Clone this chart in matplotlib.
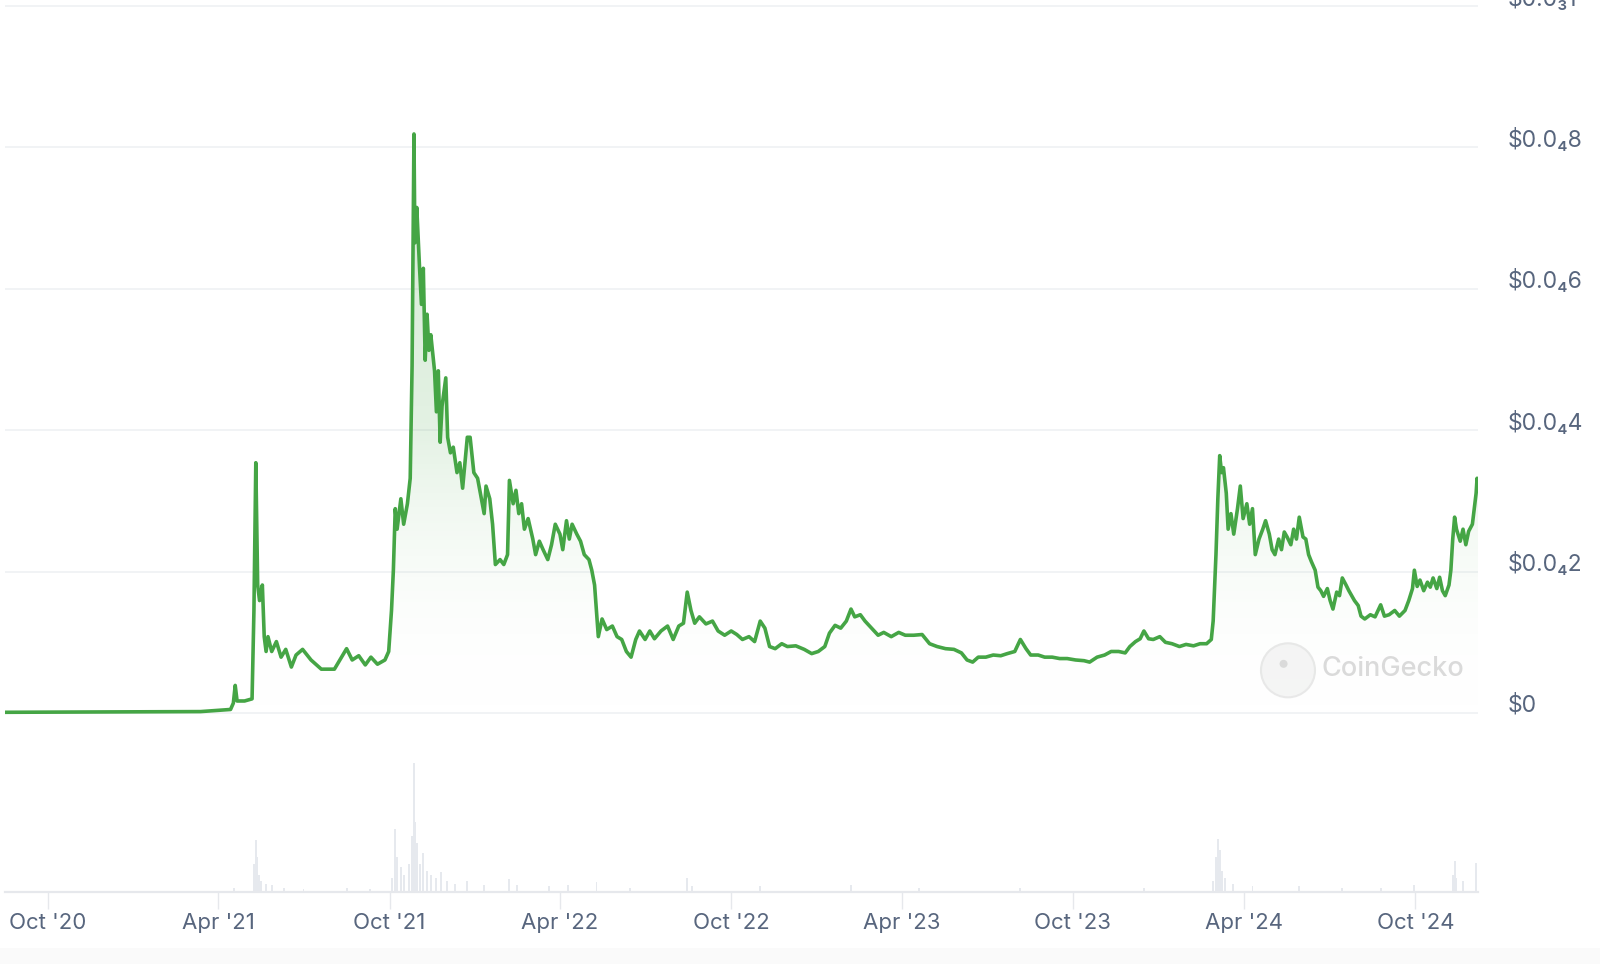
import numpy as np
import pandas as pd
import matplotlib
matplotlib.use('Agg')
import matplotlib.pyplot as plt
import matplotlib.dates as mdates
from matplotlib.colors import LinearSegmentedColormap
from matplotlib.patches import Ellipse, Rectangle
from matplotlib.transforms import ScaledTranslation

plt.rcParams['font.family'] = ['Inter', 'DejaVu Sans']

# price in units of 1e-5 USD
price_dates = [
    '2020-08-16', '2021-03-13', '2021-04-14', '2021-04-17', '2021-04-19', '2021-04-21', '2021-04-29',
    '2021-05-07', '2021-05-09', '2021-05-11', '2021-05-13', '2021-05-15', '2021-05-18', '2021-05-20',
    '2021-05-22', '2021-05-24', '2021-05-28', '2021-06-02', '2021-06-07', '2021-06-12', '2021-06-18',
    '2021-06-23', '2021-06-30', '2021-07-09', '2021-07-20', '2021-08-03', '2021-08-16', '2021-08-22',
    '2021-08-29', '2021-09-05', '2021-09-11', '2021-09-18', '2021-09-26', '2021-09-30', '2021-10-03',
    '2021-10-05', '2021-10-07', '2021-10-09', '2021-10-13', '2021-10-16', '2021-10-20', '2021-10-23',
    '2021-10-25', '2021-10-27', '2021-10-28', '2021-10-30', '2021-11-02', '2021-11-04', '2021-11-06',
    '2021-11-08', '2021-11-10', '2021-11-12', '2021-11-14', '2021-11-18', '2021-11-20', '2021-11-22',
    '2021-11-24', '2021-11-26', '2021-11-30', '2021-12-02', '2021-12-05', '2021-12-08', '2021-12-12',
    '2021-12-15', '2021-12-18', '2021-12-23', '2021-12-26', '2021-12-30', '2022-01-03', '2022-01-07',
    '2022-01-10', '2022-01-12', '2022-01-16', '2022-01-19', '2022-01-22', '2022-01-27', '2022-01-31',
    '2022-02-04', '2022-02-06', '2022-02-10', '2022-02-13', '2022-02-16', '2022-02-19', '2022-02-22',
    '2022-02-26', '2022-03-03', '2022-03-06', '2022-03-10', '2022-03-14', '2022-03-19', '2022-03-23',
    '2022-03-27', '2022-04-01', '2022-04-04', '2022-04-08', '2022-04-11', '2022-04-14', '2022-04-19',
    '2022-04-23', '2022-04-27', '2022-05-02', '2022-05-05', '2022-05-08', '2022-05-10', '2022-05-12',
    '2022-05-16', '2022-05-21', '2022-05-27', '2022-06-01', '2022-06-06', '2022-06-11', '2022-06-16',
    '2022-06-21', '2022-06-25', '2022-07-01', '2022-07-06', '2022-07-11', '2022-07-18', '2022-07-25',
    '2022-07-31', '2022-08-06', '2022-08-11', '2022-08-15', '2022-08-19', '2022-08-23', '2022-08-28',
    '2022-09-04', '2022-09-11', '2022-09-17', '2022-09-24', '2022-10-01', '2022-10-07', '2022-10-13',
    '2022-10-20', '2022-10-26', '2022-11-01', '2022-11-06', '2022-11-11', '2022-11-17', '2022-11-24',
    '2022-11-30', '2022-12-09', '2022-12-18', '2022-12-26', '2023-01-02', '2023-01-09', '2023-01-14',
    '2023-01-20', '2023-01-26', '2023-02-01', '2023-02-06', '2023-02-10', '2023-02-16', '2023-02-21',
    '2023-02-28', '2023-03-07', '2023-03-13', '2023-03-21', '2023-03-29', '2023-04-05', '2023-04-14',
    '2023-04-23', '2023-05-01', '2023-05-09', '2023-05-18', '2023-05-27', '2023-06-04', '2023-06-10',
    '2023-06-16', '2023-06-22', '2023-06-30', '2023-07-08', '2023-07-16', '2023-07-23', '2023-07-31',
    '2023-08-06', '2023-08-12', '2023-08-17', '2023-08-25', '2023-09-01', '2023-09-09', '2023-09-17',
    '2023-09-25', '2023-10-04', '2023-10-13', '2023-10-19', '2023-10-27', '2023-11-04', '2023-11-11',
    '2023-11-19', '2023-11-26', '2023-12-01', '2023-12-07', '2023-12-12', '2023-12-16', '2023-12-21',
    '2023-12-26', '2024-01-02', '2024-01-08', '2024-01-15', '2024-01-23', '2024-01-30', '2024-02-07',
    '2024-02-14', '2024-02-21', '2024-02-26', '2024-02-28', '2024-03-02', '2024-03-04', '2024-03-06',
    '2024-03-08', '2024-03-10', '2024-03-13', '2024-03-15', '2024-03-18', '2024-03-21', '2024-03-25',
    '2024-03-28', '2024-03-31', '2024-04-04', '2024-04-07', '2024-04-10', '2024-04-13', '2024-04-17',
    '2024-04-21', '2024-04-24', '2024-04-28', '2024-05-01', '2024-05-04', '2024-05-08', '2024-05-11',
    '2024-05-14', '2024-05-17', '2024-05-21', '2024-05-24', '2024-05-27', '2024-05-30', '2024-06-03',
    '2024-06-06', '2024-06-09', '2024-06-12', '2024-06-16', '2024-06-19', '2024-06-22', '2024-06-25',
    '2024-06-29', '2024-07-02', '2024-07-05', '2024-07-09', '2024-07-12', '2024-07-15', '2024-07-19',
    '2024-07-22', '2024-07-25', '2024-07-28', '2024-08-01', '2024-08-04', '2024-08-08', '2024-08-14',
    '2024-08-19', '2024-08-25', '2024-08-29', '2024-09-03', '2024-09-09', '2024-09-14', '2024-09-20',
    '2024-09-24', '2024-09-28', '2024-09-30', '2024-10-03', '2024-10-06', '2024-10-10', '2024-10-14',
    '2024-10-17', '2024-10-20', '2024-10-24', '2024-10-27', '2024-10-30', '2024-11-02', '2024-11-06',
    '2024-11-08', '2024-11-10', '2024-11-12', '2024-11-14', '2024-11-18', '2024-11-21', '2024-11-24',
    '2024-11-27', '2024-12-01', '2024-12-03', '2024-12-05', '2024-12-06', '2024-12-07',
]
price_e5 = [
    0.01, 0.02, 0.05, 0.14, 0.39, 0.17, 0.17,
    0.20, 1.45, 3.54, 1.81, 1.59, 1.81, 1.08,
    0.87, 1.08, 0.87, 1.01, 0.79, 0.90, 0.65,
    0.82, 0.90, 0.75, 0.62, 0.62, 0.91, 0.75,
    0.81, 0.68, 0.79, 0.69, 0.75, 0.87, 1.45,
    2.02, 2.89, 2.60, 3.03, 2.67, 2.96, 3.32,
    4.91, 8.19, 6.65, 7.15, 6.29, 5.78, 6.29,
    4.99, 5.64, 5.13, 5.35, 4.84, 4.26, 4.84,
    3.83, 4.34, 4.74, 3.90, 3.68, 3.76, 3.40,
    3.54, 3.18, 3.90, 3.90, 3.40, 3.32, 3.03,
    2.82, 3.21, 3.03, 2.67, 2.10, 2.17, 2.10,
    2.24, 3.29, 2.96, 3.15, 2.82, 2.96, 2.60,
    2.75, 2.46, 2.24, 2.43, 2.31, 2.17, 2.38,
    2.67, 2.53, 2.31, 2.72, 2.46, 2.67, 2.53,
    2.43, 2.24, 2.17, 2.02, 1.81, 1.45, 1.08,
    1.33, 1.18, 1.23, 1.08, 1.04, 0.87, 0.79,
    1.04, 1.16, 1.04, 1.16, 1.05, 1.16, 1.23,
    1.04, 1.23, 1.27, 1.71, 1.45, 1.27, 1.36,
    1.26, 1.30, 1.16, 1.10, 1.16, 1.11, 1.04,
    1.08, 1.01, 1.30, 1.20, 0.94, 0.91, 0.98,
    0.94, 0.95, 0.90, 0.84, 0.87, 0.94, 1.13,
    1.24, 1.20, 1.30, 1.47, 1.36, 1.39, 1.30,
    1.20, 1.10, 1.14, 1.08, 1.14, 1.10, 1.10,
    1.11, 0.98, 0.94, 0.91, 0.90, 0.85, 0.75,
    0.72, 0.79, 0.79, 0.82, 0.81, 0.84, 0.87,
    1.04, 0.91, 0.82, 0.82, 0.79, 0.79, 0.77,
    0.77, 0.75, 0.74, 0.72, 0.79, 0.82, 0.87,
    0.87, 0.85, 0.94, 1.01, 1.05, 1.16, 1.05,
    1.04, 1.08, 1.00, 0.98, 0.94, 0.97, 0.95,
    0.98, 0.98, 1.04, 1.30, 2.24, 3.03, 3.64,
    3.40, 3.47, 3.11, 2.60, 2.82, 2.53, 2.89,
    3.21, 2.75, 2.96, 2.67, 2.89, 2.24, 2.46,
    2.60, 2.72, 2.53, 2.31, 2.24, 2.46, 2.31,
    2.56, 2.49, 2.38, 2.60, 2.46, 2.77, 2.49,
    2.46, 2.24, 2.14, 2.02, 1.78, 1.73, 1.65,
    1.76, 1.59, 1.47, 1.71, 1.66, 1.91, 1.81,
    1.73, 1.66, 1.59, 1.52, 1.37, 1.33, 1.39,
    1.36, 1.53, 1.37, 1.39, 1.45, 1.37, 1.45,
    1.59, 1.76, 2.02, 1.79, 1.88, 1.73, 1.85,
    1.78, 1.91, 1.76, 1.92, 1.73, 1.66, 1.81,
    2.02, 2.46, 2.77, 2.60, 2.43, 2.60, 2.38,
    2.57, 2.67, 2.89, 3.11, 3.32, 3.14,
]

# trading volume, relative units
volume_dates = [
    '2021-04-18', '2021-05-09', '2021-05-11', '2021-05-12', '2021-05-14', '2021-05-17', '2021-05-22',
    '2021-05-28', '2021-06-10', '2021-07-01', '2021-08-16', '2021-09-10', '2021-10-04', '2021-10-07',
    '2021-10-09', '2021-10-13', '2021-10-16', '2021-10-22', '2021-10-25', '2021-10-27', '2021-10-28',
    '2021-10-30', '2021-11-02', '2021-11-06', '2021-11-10', '2021-11-14', '2021-11-20', '2021-11-25',
    '2021-12-01', '2021-12-10', '2021-12-23', '2022-01-10', '2022-02-06', '2022-02-14', '2022-03-20',
    '2022-04-10', '2022-05-10', '2022-06-15', '2022-08-15', '2022-08-20', '2022-11-01', '2023-02-06',
    '2023-04-20', '2023-08-06', '2023-12-16', '2024-02-28', '2024-03-02', '2024-03-04', '2024-03-06',
    '2024-03-08', '2024-03-12', '2024-03-20', '2024-04-10', '2024-05-30', '2024-07-15', '2024-08-25',
    '2024-09-30', '2024-11-10', '2024-11-12', '2024-11-14', '2024-11-21', '2024-12-05',
]
volume = [
    3, 20, 37, 25, 12, 8, 6,
    5, 3, 2, 3, 2, 10, 45,
    25, 18, 12, 20, 40, 92, 50,
    35, 20, 28, 15, 12, 10, 14,
    8, 6, 8, 5, 9, 5, 4,
    5, 7, 3, 10, 4, 4, 5,
    3, 3, 3, 8, 25, 38, 30,
    15, 10, 6, 4, 4, 3, 3,
    5, 12, 22, 10, 8, 21,
]

tick_values = [0, 2, 4, 6, 8, 10]
tick_labels = ['\\$0', '\\$0.0₄2', '\\$0.0₄4', '\\$0.0₄6', '\\$0.0₄8', '\\$0.0₃1']

green = '#45a545'
text_color = '#58667e'
grid_color = '#eff1f4'

x = mdates.date2num(pd.to_datetime(price_dates))
y = np.array(price_e5)
xv = mdates.date2num(pd.to_datetime(volume_dates))

fig = plt.figure(figsize=(16, 9.64), dpi=100)
fig.patches.append(Rectangle((0, 0), 1, 16 / 964, transform=fig.transFigure,
                             facecolor='#fafafa', edgecolor='none', zorder=-5))

ax = fig.add_axes([5 / 1600, 1 - 720 / 964, 1473 / 1600, 720 / 964])
ax2 = fig.add_axes([5 / 1600, 1 - 892 / 964, 1473 / 1600, 140 / 964], sharex=ax)

# price line + gradient fill
ax.plot(x, y, color=green, lw=2.6, solid_joinstyle='round', zorder=3)
poly = ax.fill_between(x, y, 0, color='none')
cmap = LinearSegmentedColormap.from_list('g', [(1, 1, 1, 0), (0.30, 0.66, 0.30, 0.16),
                                               (0.30, 0.66, 0.30, 0.24)])
grad = np.linspace(0, 1, 256).reshape(-1, 1)
img = ax.imshow(grad, cmap=cmap, aspect='auto', origin='lower',
                extent=[x[0], x[-1], 0, max(price_e5)], zorder=2)
img.set_clip_path(poly.get_paths()[0], transform=ax.transData)

ax.set_xlim(x[0], x[-1])
ax.set_ylim(-0.099, 10.085)
ax.set_yticks(tick_values)
ax.set_yticklabels(tick_labels)
ax.grid(axis='y', color=grid_color, lw=1.2)
ax.tick_params(axis='y', left=False, right=False, labelleft=False, labelright=True,
               pad=18, labelsize=16.5, labelcolor=text_color)
for lab in ax.get_yticklabels():
    lab.set_transform(lab.get_transform() + ScaledTranslation(0, 10 / 100, fig.dpi_scale_trans))
ax.tick_params(axis='x', bottom=False, labelbottom=False)
for s in ax.spines.values():
    s.set_visible(False)

# watermark
ax.add_patch(Ellipse((0.871, 0.069), 54 / 1473, 54 / 720, transform=ax.transAxes,
                     facecolor='#f5f5f5', edgecolor='#e8e8e8', lw=1.5, zorder=1))
ax.add_patch(Ellipse((0.868, 0.078), 8 / 1473, 8 / 720, transform=ax.transAxes,
                     facecolor='#dadada', edgecolor='none', zorder=1))
ax.text(0.894, 0.071, 'CoinGecko', transform=ax.transAxes, fontsize=19.5, color='#dadada',
        ha='left', va='center', fontweight='medium', zorder=1)

# volume
ax2.bar(xv, volume, width=2, color='#e6e9ee', edgecolor='none')
ax2.set_ylim(0, 100)
ax2.set_yticks([])
for s in ['top', 'left', 'right']:
    ax2.spines[s].set_visible(False)
ax2.spines['bottom'].set_color('#e6e8ec')
ax2.spines['bottom'].set_linewidth(1.6)
ax2.xaxis.set_major_locator(mdates.MonthLocator(bymonth=[4, 10]))
ax2.xaxis.set_major_formatter(mdates.DateFormatter("%b '%y"))
ax2.tick_params(axis='x', length=12, width=1, color='#e6e8ec', pad=3,
                labelsize=16, labelcolor=text_color)

fig.savefig('out.png', dpi=100, facecolor='white')
